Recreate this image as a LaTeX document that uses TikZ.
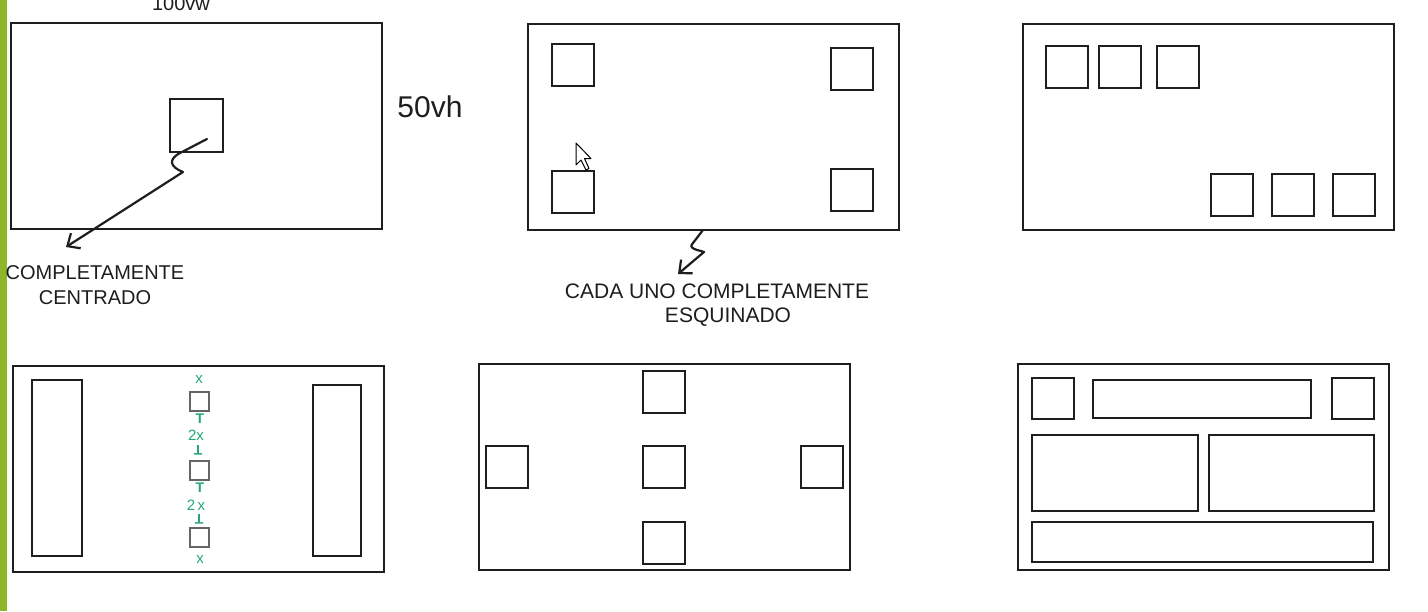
\documentclass[tikz,border=0pt]{standalone}
\usepackage{fontspec}
\setmainfont{Liberation Sans}
\usetikzlibrary{arrows.meta, positioning}
\definecolor{verdebarra}{RGB}{141,182,40}
\definecolor{verdenota}{RGB}{38,168,118}
\definecolor{trazo}{RGB}{30,30,30}

\begin{document}
\begin{tikzpicture}[x=0.5pt, y=-0.5pt]
    % Todo va en píxeles de la captura (1 px = 0.5pt, y hacia abajo), así las
    % cajas se leen con las mismas cifras que se midieron sobre la imagen.
    \tikzstyle{pantalla} = [rectangle, draw=trazo, line width=1pt, anchor=north west,
        inner sep=0pt, outer sep=0pt, minimum width=185.5pt, minimum height=103pt]
    \tikzstyle{caja} = [rectangle, draw=trazo, line width=0.9pt, anchor=north west,
        inner sep=0pt, outer sep=0pt, minimum size=21pt]
    \tikzstyle{cajita} = [rectangle, draw=black!60, line width=0.6pt, anchor=north west,
        inner sep=0pt, outer sep=0pt, minimum size=9.5pt]
    \tikzstyle{rotulo} = [font=\fontsize{10}{12.5}\selectfont, align=center,
        inner sep=0pt, text=trazo]
    \tikzstyle{nota} = [text=verdenota, font=\fontsize{7.5}{7.5}\selectfont, inner sep=0pt]
    % las marcas de cota son una T, derecha arriba y volteada abajo
    \tikzstyle{cota} = [text=verdenota, font=\fontsize{7}{7}\bfseries\selectfont,
        inner sep=0pt]

    \tikzstyle{flecha} = [draw=trazo, line width=1.1pt, line cap=round, line join=round,
        -{Straight Barb[length=5pt,width=9pt]}]

    \useasboundingbox (0,0) rectangle (1428,611);
    \clip (0,0) rectangle (1428,611);
    \fill[white] (0,0) rectangle (1428,611);
    \fill[verdebarra] (0,0) rectangle (7,611);

    % fila de arriba
    \node (centrado) [pantalla] at (11,23) {};
    \node (centro) [caja, minimum size=26.5pt] at (170,99) {};
    \node (ancho) [rotulo, anchor=base] at (181,10) {100vw};
    \node (alto) [rotulo, font=\fontsize{15}{15}\selectfont, anchor=west] at (397,107) {50vh};

    \node (esquinas) [pantalla] at (528,24) {};
    \node (esqA) [caja] at (552,44) {};
    \node (esqB) [caja] at (831,48) {};
    \node (esqC) [caja] at (552,171) {};
    \node (esqD) [caja] at (831,169) {};

    \node (grupos) [pantalla] at (1023,24) {};
    \node (grupoA1) [caja] at (1046,46) {};
    \node (grupoA2) [caja] at (1099,46) {};
    \node (grupoA3) [caja] at (1157,46) {};
    \node (grupoB1) [caja] at (1211,174) {};
    \node (grupoB2) [caja] at (1272,174) {};
    \node (grupoB3) [caja] at (1333,174) {};

    % el puntero del ratón que quedó en la captura
    \draw[fill=white, line width=0.5pt, line join=round] (576,143) -- (576,165)
        -- (581,160) -- (586,170) -- (589,168.5) -- (584.5,158.5) -- (591,158.5) -- cycle;

    % rótulos con su flecha en zigzag
    \node (txtCentrado) [rotulo] at (95,285) {COMPLETAMENTE\\CENTRADO};
    \coordinate (inicioA) at (207,139);
    \coordinate (puntaA) at (66,247);
    \draw[flecha] (inicioA) -- (182,152) .. controls (167,159) and (170,167) .. (183,172)
        -- (puntaA);

    \node (txtEsquinas) [rotulo, font=\fontsize{10.5}{12}\selectfont] at (717,305)
        {CADA UNO COMPLETAMENTE\\\hspace*{11pt}ESQUINADO};
    \coordinate (puntaB) at (678,274);
    \draw[flecha] ([xshift=-5.25pt]esquinas.south) -- (693,243)
        .. controls (687,249) and (699,250) .. (704,252) -- (puntaB);

    % fila de abajo
    \node (columnas) [pantalla] at (13,366) {};
    \node (colIzq) [caja, minimum width=25pt, minimum height=88pt] at (32,380) {};
    \node (colDer) [caja, minimum width=24pt, minimum height=85.5pt] at (313,385) {};
    \node (pila1) [cajita] at (190,392) {};
    \node (pila2) [cajita] at (190,461) {};
    \node (pila3) [cajita] at (190,528) {};
    \node (sep1) [nota] at (199,380) {x};
    \node (sep2) [cota] at (200,419) {T};
    \node (sep3) [nota] at (196,435) {2x};
    \node (sep4) [cota, rotate=180] at (198,450) {T};
    \node (sep5) [cota] at (200,488) {T};
    \node (sep6) [nota] at (196,505) {2\,x};
    \node (sep7) [cota, rotate=180] at (199,519) {T};
    \node (sep8) [nota] at (200,560) {x};

    \node (cruz) [pantalla] at (479,364) {};
    \node (cruzN) [caja] at (643,371) {};
    \node (cruzO) [caja] at (486,446) {};
    \node (cruzC) [caja] at (643,446) {};
    \node (cruzE) [caja] at (801,446) {};
    \node (cruzS) [caja] at (643,522) {};

    \node (rejilla) [pantalla] at (1018,364) {};
    \node (logo) [caja, minimum height=20.5pt] at (1032,378) {};
    \node (barra) [caja, minimum width=109pt, minimum height=19pt] at (1093,380) {};
    \node (icono) [caja, minimum height=20.5pt] at (1332,378) {};
    \node (panelIzq) [caja, minimum width=83pt, minimum height=38pt] at (1032,435) {};
    \node (panelDer) [caja, minimum width=82.5pt, minimum height=38pt] at (1209,435) {};
    \node (pie) [caja, minimum width=170.5pt, minimum height=20pt] at (1032,522) {};
\end{tikzpicture}
\end{document}
